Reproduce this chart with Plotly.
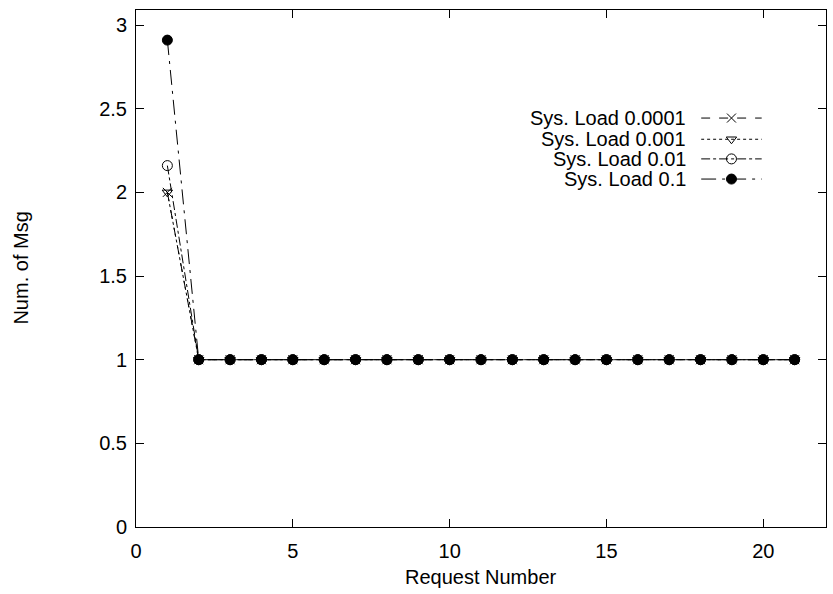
import plotly.graph_objects as go

x_vals = list(range(1, 22))
load_0001 = [2.0] + [1.0] * 20
load_001 = [2.0] + [1.0] * 20
load_01 = [2.16] + [1.0] * 20
load_1 = [2.91] + [1.0] * 20
labels = ["Sys. Load 0.0001", "Sys. Load 0.001", "Sys. Load 0.01", "Sys. Load 0.1"]
x_ticks = [0, 5, 10, 15, 20]
y_ticks = [0, 0.5, 1, 1.5, 2, 2.5, 3]
y_ticktext = ["0", "0.5", "1", "1.5", "2", "2.5", "3"]

series = [load_0001, load_001, load_01, load_1]
dashes = ["dash", "dot", "dashdot", "longdashdot"]
symbols = ["x-thin-open", "triangle-down-open", "circle-open", "circle"]
msizes = [9, 9, 10, 10]

FONT = "Liberation Sans, Arial, Helvetica, sans-serif"
FS = 20
fig = go.Figure()
for ys, d, s, ms in zip(series, dashes, symbols, msizes):
    fig.add_trace(go.Scatter(
        x=x_vals, y=ys, mode="lines+markers",
        line=dict(color="black", width=1, dash=d),
        marker=dict(symbol=s, size=ms, color="black",
                    line=dict(color="black", width=1)),
        showlegend=False,
    ))

# manual gnuplot-style legend (text left, sample right)
row_y = [0.791, 0.750, 0.712, 0.673]
for lab, d, s, ms, ry in zip(labels, dashes, symbols, msizes, row_y):
    fig.add_trace(go.Scatter(
        x=[0.0, 0.5, 1.0], y=[ry, ry, ry], xaxis="x2", yaxis="y2",
        mode="lines", line=dict(color="black", width=1, dash=d),
        showlegend=False, hoverinfo="skip"))
    fig.add_trace(go.Scatter(
        x=[0.5], y=[ry], xaxis="x2", yaxis="y2", mode="markers",
        marker=dict(symbol=s, size=ms, color="black",
                    line=dict(color="black", width=1)),
        showlegend=False, hoverinfo="skip"))
    fig.add_annotation(xref="paper", yref="y2", x=0.8, y=ry, text=lab,
                       showarrow=False, xanchor="right", yanchor="middle",
                       font=dict(family=FONT, size=FS, color="black"))

# axis titles
fig.add_annotation(xref="paper", yref="paper", x=0.5, y=-0.097, text="Request Number",
                   showarrow=False, xanchor="center", yanchor="middle",
                   font=dict(family=FONT, size=FS, color="black"))
fig.add_annotation(xref="paper", yref="paper", x=-0.168, y=0.5, text="Num. of Msg",
                   showarrow=False, xanchor="center", yanchor="middle", textangle=-90,
                   font=dict(family=FONT, size=FS, color="black"))

axis_common = dict(showline=True, linecolor="black", linewidth=1, mirror="ticks",
                   ticks="inside", ticklen=8, tickcolor="black", showgrid=False,
                   zeroline=False, tickfont=dict(family=FONT, size=FS, color="black"))

fig.update_layout(
    width=833, height=594,
    margin=dict(l=136, r=7, t=10, b=67),
    paper_bgcolor="white", plot_bgcolor="rgba(0,0,0,0)",
    xaxis=dict(range=[0, 22], tickvals=x_ticks, ticklabelstandoff=6, **axis_common),
    yaxis=dict(range=[0, 3.09], tickvals=y_ticks, ticktext=y_ticktext,
               ticklabelstandoff=4, **axis_common),
    xaxis2=dict(domain=[0.819, 0.907], range=[0, 1], visible=False, anchor="y2"),
    yaxis2=dict(domain=[0, 1], range=[0, 1], visible=False, anchor="x2"),
    font=dict(family=FONT, size=FS, color="black"),
)

fig.write_html("out.html")
